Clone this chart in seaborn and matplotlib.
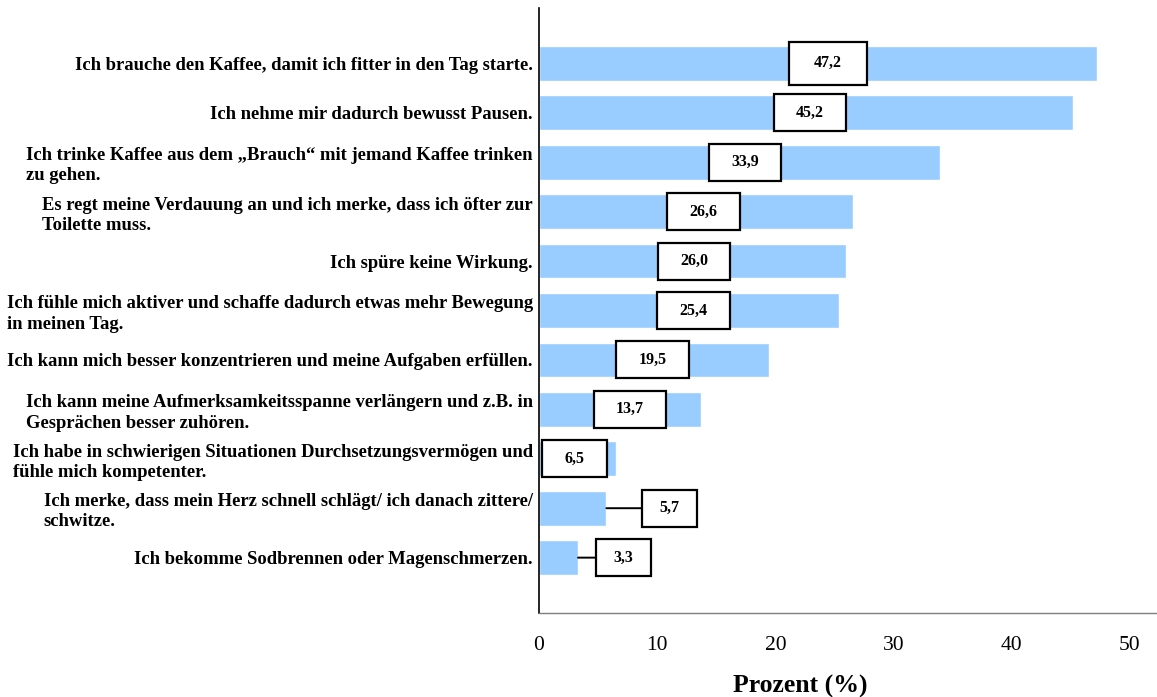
import matplotlib
matplotlib.use("Agg")
import matplotlib.pyplot as plt
from matplotlib.path import Path
import pandas as pd
import seaborn as sns

# Survey answers (multiple answers possible), share of respondents in percent
statements = [
    "Ich brauche den Kaffee, damit ich fitter in den Tag starte.",
    "Ich nehme mir dadurch bewusst Pausen.",
    "Ich trinke Kaffee aus dem \u201eBrauch\u201c mit jemand Kaffee trinken\nzu gehen.",
    "Es regt meine Verdauung an und ich merke, dass ich \u00f6fter zur\nToilette muss.",
    "Ich sp\u00fcre keine Wirkung.",
    "Ich f\u00fchle mich aktiver und schaffe dadurch etwas mehr Bewegung\nin meinen Tag.",
    "Ich kann mich besser konzentrieren und meine Aufgaben erf\u00fcllen.",
    "Ich kann meine Aufmerksamkeitsspanne verl\u00e4ngern und z.B. in\nGespr\u00e4chen besser zuh\u00f6ren.",
    "Ich habe in schwierigen Situationen Durchsetzungsverm\u00f6gen und\nf\u00fchle mich kompetenter.",
    "Ich merke, dass mein Herz schnell schl\u00e4gt/ ich danach zittere/\nschwitze.",
    "Ich bekomme Sodbrennen oder Magenschmerzen.",
]
percent = [47.2, 45.2, 33.9, 26.6, 26.0, 25.4, 19.5, 13.7, 6.5, 5.7, 3.3]

# Horizontal anchor of each value box (percent scale)
label_x = [24.45, 22.93, 17.43, 13.92, 13.11, 13.07, 9.60, 7.70, 3.0, 11.04, 7.15]
# Bars whose box sits outside the bar get a connector line
outside = [False] * 9 + [True, True]

df = pd.DataFrame({"Aussage": statements, "Prozent": percent})

sns.set_theme(style="white")
plt.rcParams["font.family"] = ["Liberation Serif", "DejaVu Serif"]
plt.rcParams["text.color"] = "black"
plt.rcParams["xtick.color"] = "black"
plt.rcParams["ytick.color"] = "black"
plt.rcParams["axes.labelcolor"] = "black"

fig = plt.figure(figsize=(11.57, 6.97), dpi=100)
ax = fig.add_axes([539 / 1157, 1 - 613 / 697, (1156 - 539) / 1157, (613 - 8) / 697])

sns.barplot(data=df, x="Prozent", y="Aussage", orient="h", color="#99CCFF",
            saturation=1, width=0.7, ax=ax)

ax.set_xlim(0, 52.2)
ax.set_ylim(11 - 0.5 + 0.62, -1.12)
ax.set_xticks([0, 10, 20, 30, 40, 50])
ax.tick_params(axis="x", length=0, pad=16.5, labelsize=15.5, labelcolor="black")
ax.tick_params(axis="y", length=0, pad=4.5, labelcolor="black")
for t in ax.get_yticklabels():
    t.set_fontsize(13.4)
    t.set_fontweight("bold")
    t.set_multialignment("left")
    t.set_linespacing(1.25)
ax.set_ylabel("")
ax.set_xlabel("Prozent (%)", fontsize=18.5, fontweight="bold", va="top")
ax.xaxis.set_label_coords(0.423, -0.103)

for side in ("top", "right"):
    ax.spines[side].set_visible(False)
ax.spines["left"].set_color("black")
ax.spines["left"].set_linewidth(1.2)
ax.spines["bottom"].set_color("#7f7f7f")
ax.spines["bottom"].set_linewidth(1.0)


def value_box(padx, pady):
    """Rectangle around the text with separate horizontal/vertical padding."""
    def box(x0, y0, width, height, mutation_size):
        px = padx * mutation_size
        py = pady * mutation_size
        x1, y1 = x0 - px, y0 - py
        x2, y2 = x0 + width + px, y0 + height + py
        return Path([(x1, y1), (x2, y1), (x2, y2), (x1, y2), (x1, y1)], closed=True)
    return box


for i, (v, lx, out) in enumerate(zip(percent, label_x, outside)):
    txt = f"{v:.1f}".replace(".", ",")
    if i == 0:
        padx, pady = 1.55, 0.85
    elif out:
        padx, pady = 1.1, 0.66
    else:
        padx, pady = 1.4, 0.66
    bbox = dict(boxstyle=value_box(padx, pady), facecolor="white",
                edgecolor="black", linewidth=1.6)
    if out:
        ax.annotate(txt, xy=(v, i), xytext=(lx, i), ha="center", va="center",
                    fontsize=11.5, fontweight="bold", color="black", bbox=bbox,
                    arrowprops=dict(arrowstyle="-", color="black", lw=1.4,
                                    shrinkA=0, shrinkB=0))
    else:
        ax.text(lx, i, txt, ha="center", va="center", fontsize=11.5,
                fontweight="bold", color="black", bbox=bbox)

fig.savefig("out.png", dpi=100, facecolor="white")
